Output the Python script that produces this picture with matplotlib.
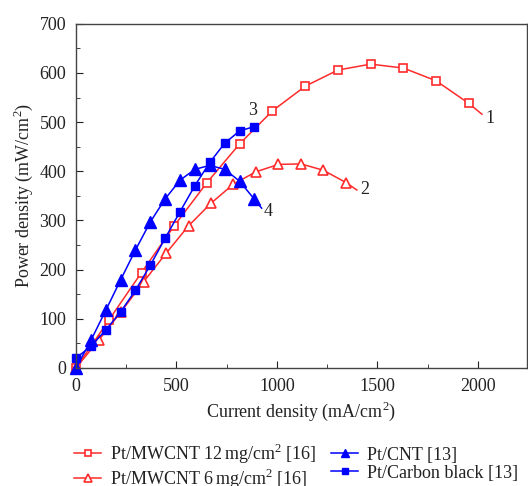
import matplotlib
matplotlib.use("Agg")
import matplotlib.pyplot as plt
from matplotlib.ticker import MultipleLocator

plt.rcParams['font.family'] = ['Liberation Serif', 'DejaVu Serif']
plt.rcParams['mathtext.fontset'] = 'custom'
plt.rcParams['mathtext.rm'] = 'Liberation Serif'

# curve 1: Pt/MWCNT 12 mg/cm2 (last point = end of curve, no marker)
x1 = [0, 163, 326, 489, 652, 815, 978, 1141, 1304, 1467, 1630, 1793, 1956, 2021]
y1 = [0, 97, 194, 289, 377, 456, 523, 573, 606, 618, 610, 584, 538, 516]
# curve 2: Pt/MWCNT 6 mg/cm2
x2 = [0, 112, 224, 336, 448, 560, 672, 784, 896, 1008, 1120, 1232, 1344, 1398]
y2 = [0, 56, 114, 175, 233, 289, 335, 374, 399, 414, 415, 402, 377, 362]
# curve 3: Pt/Carbon black
x3 = [0, 74, 148, 222, 296, 370, 444, 518, 592, 666, 740, 814, 888]
y3 = [20, 44, 77, 114, 158, 209, 264, 318, 371, 418, 457, 482, 491]
# curve 4: Pt/CNT
x4 = [0, 74, 148, 222, 296, 370, 444, 518, 592, 666, 740, 814, 888, 924]
y4 = [0, 56, 117, 179, 240, 297, 344, 382, 404, 412, 404, 380, 343, 325]

labels = ['Pt/MWCNT 12$\\,$mg/cm$^{\\mathregular{2}}$ [16]',
          'Pt/MWCNT 6$\\,$mg/cm$^{\\mathregular{2}}$ [16]',
          'Pt/CNT [13]',
          'Pt/Carbon black [13]']
tags = ['1', '2', '3', '4']
tag_x = [2062, 1439, 880, 955]
tag_y = [508, 362, 523, 319]

red = '#ff2b2b'
blue = '#0000ff'

fig = plt.figure(figsize=(5.28, 4.86), dpi=100)
ax = fig.add_axes([0.144, 0.243, 0.854, 0.708])

h1, = ax.plot(x1, y1, color=red, lw=1.1, marker='s', ms=6.3, mfc='white',
              mec=red, mew=1.2, markevery=list(range(len(x1) - 1)), clip_on=False)
h2, = ax.plot(x2, y2, color=red, lw=1.1, marker='^', ms=7.5, mfc='white',
              mec=red, mew=1.2, markevery=list(range(len(x2) - 1)), clip_on=False)
h4, = ax.plot(x4, y4, color=blue, lw=1.1, marker='^', ms=8, mfc=blue,
              mec=blue, markevery=list(range(len(x4) - 1)), clip_on=False)
h3, = ax.plot(x3, y3, color=blue, lw=1.1, marker='s', ms=6.3, mfc=blue,
              mec=blue, clip_on=False)

for t, tx, ty in zip(tags, tag_x, tag_y):
    ax.text(tx, ty, t, fontsize=13, ha='center', va='center', color='#222222')

ax.set_xlim(0, 2245)
ax.set_ylim(0, 700)
ax.xaxis.set_major_locator(MultipleLocator(500))
ax.xaxis.set_minor_locator(MultipleLocator(250))
ax.yaxis.set_major_locator(MultipleLocator(100))
ax.yaxis.set_minor_locator(MultipleLocator(50))
ax.tick_params(which='both', direction='in', top=False, right=False,
               labelsize=13, colors='#222222')
ax.tick_params(which='major', length=5, pad=7)
ax.tick_params(which='minor', length=3)
for s in ax.spines.values():
    s.set_color('#444444')
    s.set_linewidth(1.0)

ax.set_xlabel('Current density (mA/cm$^{\\mathregular{2}}$)', fontsize=13,
              color='#222222', labelpad=4)
ax.set_ylabel('Power density (mW/cm$^{\\mathregular{2}}$)', fontsize=13,
              color='#222222', labelpad=3)

leg = fig.legend([h1, h2, h4, h3], labels, ncol=2, loc='upper left',
                 bbox_to_anchor=(0.123, 0.11), frameon=False, fontsize=13,
                 handlelength=1.5, handletextpad=0.5, columnspacing=0.8,
                 labelspacing=0.05, markerscale=0.7, borderpad=0)
for t in leg.get_texts():
    t.set_color('#222222')

fig.savefig('out.png', dpi=100)
